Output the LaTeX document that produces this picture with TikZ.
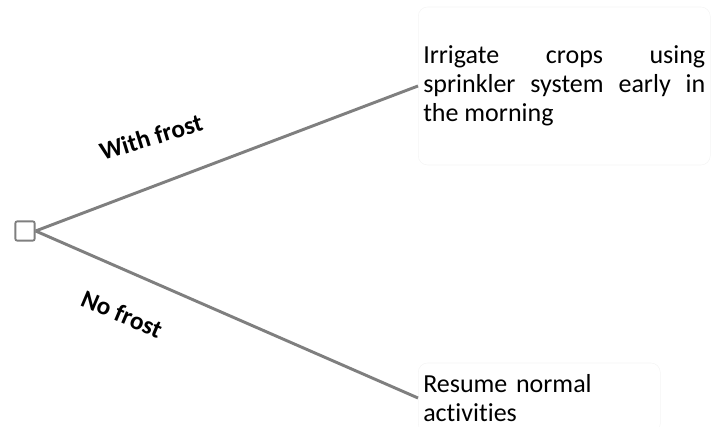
\documentclass[tikz,border=0pt]{standalone}
\usepackage{fontspec}
\setmainfont{Carlito}[Ligatures=NoCommon]
\usepackage{tikz}
\usetikzlibrary{positioning}
\usepackage{xcolor}
\definecolor{BranchGray}{HTML}{7F7F7F}
\definecolor{BoxEdge}{HTML}{F4F4F4}
\hyphenpenalty=10000
\exhyphenpenalty=10000

\tikzset{
  outcome/.style={draw=BoxEdge,rounded corners=7pt,inner xsep=3.75pt,
    font=\fontsize{19.5}{21.75}\selectfont},
  branch/.style={BranchGray,line width=2.2pt},
  branchlabel/.style={font=\bfseries\fontsize{19}{22}\selectfont,inner sep=0pt}
}

\begin{document}
\begin{tikzpicture}[x=0.75pt,y=0.75pt]
  \useasboundingbox (0,0) rectangle (711,427);
  \node[draw=BranchGray,fill=white,line width=1.4pt,rounded corners=1.5pt,
    minimum size=14.5pt,inner sep=0pt] (decision) at (25,196) {};
  \node[outcome,anchor=west,text width=211.5pt,align=justify,minimum height=118.5pt]
    (frostbox) at (418,341)
    {\hyphenpenalty=10000 \tolerance=10000 Irrigate crops using sprinkler system early in the morning};
  \node[outcome,anchor=west,text width=174pt,align=left,minimum height=52.5pt]
    (normalbox) at (418,29) {\hyphenpenalty=10000 Resume normal activities};
  \draw[branch] (decision.east) -- (frostbox.west);
  \draw[branch] (decision.east) -- (normalbox.west);
  \node[branchlabel,rotate=17] (withfrost) at (151,290) {With frost};
  \node[branchlabel,rotate=-23] (nofrost) at (122,113) {No frost};
\end{tikzpicture}
\end{document}
